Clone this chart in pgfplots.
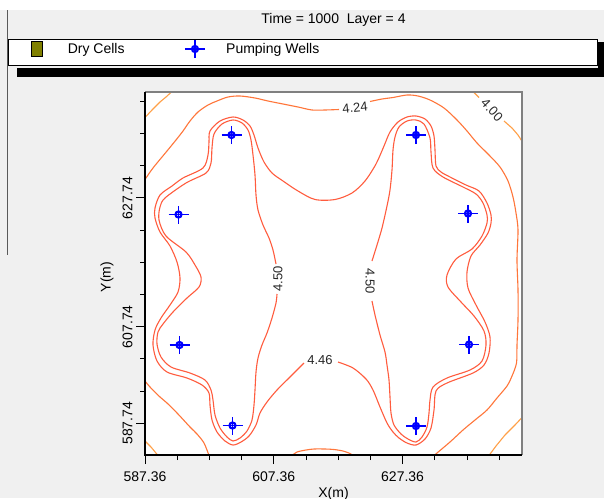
\documentclass[border=0pt]{standalone}
\usepackage{fontspec}
\setmainfont{Liberation Sans}
\usepackage{pgfplots}
\pgfplotsset{compat=1.18}
\definecolor{lobec}{RGB}{255,92,62}
\definecolor{ringc}{RGB}{255,118,58}
\definecolor{cornc}{RGB}{255,160,72}
\definecolor{bgc}{RGB}{240,240,240}
\definecolor{olivec}{RGB}{128,128,0}
\definecolor{labc}{RGB}{40,40,40}
\definecolor{wellc}{RGB}{0,0,255}
\pgfdeclareplotmark{well}{%
  \pgfsetstrokecolor{wellc}%
  \pgfsetlinewidth{1.6pt}%
  \pgfpathmoveto{\pgfqpoint{-10pt}{0pt}}\pgfpathlineto{\pgfqpoint{10pt}{0pt}}%
  \pgfpathmoveto{\pgfqpoint{0pt}{-9pt}}\pgfpathlineto{\pgfqpoint{0pt}{9pt}}%
  \pgfusepathqstroke
  \pgfsetlinewidth{2.2pt}%
  \pgfpathcircle{\pgfqpoint{0pt}{0pt}}{3pt}%
  \pgfusepathqstroke
}
\begin{document}
\begin{tikzpicture}
\useasboundingbox (0pt,0pt) rectangle (604pt,-498pt);
\fill[bgc] (0pt,0pt) rectangle (604pt,-498pt);
\fill[white] (0pt,0pt) rectangle (604pt,-10pt);
\draw[black!65, line width=1pt] (7pt,-10pt) -- (7pt,-255pt);
\fill[black] (17pt,-68pt) rectangle (604pt,-77pt);
\fill[black] (598pt,-42pt) rectangle (604pt,-77pt);
\filldraw[fill=white, draw=black, line width=1pt] (8pt,-39.5pt) rectangle (597pt,-65pt);
\begin{axis}[name=ax,
  at={(145pt,-455pt)}, anchor=south west,
  scale only axis, width=377pt, height=363pt,
  xmin=145, xmax=522, ymin=-455, ymax=-92,
  axis background/.style={fill=white},
  axis line style={draw=none},
  tick align=outside, tick pos=left,
  xtick={145,273.8,402.6}, xticklabels={587.36,607.36,627.36},
  minor xtick={177.2,209.4,241.6,306,338.2,370.4,434.8,467,499.2},
  ytick={-423.3,-326.7,-197.9}, yticklabels={587.74,607.74,627.74},
  minor ytick={-391.1,-358.9,-294.5,-262.3,-230.1,-165.7,-133.5,-101.3},
  major tick length=9pt, minor tick length=5pt,
  tick style={black, line width=1pt},
  ticklabel style={font=\fontsize{14}{16}\selectfont},
  xticklabel style={yshift=-4pt},
  yticklabel style={rotate=90, anchor=south},
  xlabel={X(m)}, ylabel={Y(m)},
  label style={font=\fontsize{14}{16}\selectfont},
  xlabel style={at={(axis description cs:0.5,0)}, anchor=north, inner sep=0pt, yshift=-32pt},
  ylabel style={at={(axis description cs:-0.1008,0.4904)}, anchor=center, rotate=0, inner sep=0pt},
  title={Time = 1000\ \ Layer = 4},
  title style={at={(axis description cs:0.5,1.2066)}, anchor=center, inner sep=0pt, yshift=-9pt, font=\fontsize{14}{16}\selectfont},
  legend columns=-1,
  legend style={at={(axis description cs:-0.30239,1.11846)}, anchor=west, draw=none, fill=none,
    inner xsep=0pt, inner ysep=0pt, font=\fontsize{14}{16}\selectfont,
    nodes={inner sep=0pt},
    /tikz/every even column/.append style={column sep=55.2pt}},
  legend cell align=left,
]
\addlegendimage{legend image code/.code={\path (0pt,0pt) (36pt,0pt); \draw[black, line width=0.8pt, fill=olivec] (0pt,-7.5pt) rectangle (11pt,7.5pt);}}
\addlegendentry{Dry Cells}
% 4.00 corners
\addplot[cornc, line width=1.1pt, forget plot] coordinates {(145,-117.5) (152,-110) (160,-102) (166,-97) (172,-91.5)};
\addplot[cornc, line width=1.1pt, forget plot] coordinates {(473,-91.5) (479,-97.5)};
\addplot[cornc, line width=1.1pt, forget plot] coordinates {(504,-121) (512,-128) (518,-135) (522.5,-142)};
\addplot[cornc, line width=1.1pt, forget plot] coordinates {(145,-441) (151,-447) (158,-455.5)};
\addplot[cornc, line width=1.1pt, forget plot] coordinates {(522.5,-417) (515,-425) (505,-435) (496,-446) (489,-455.5)};
% 4.24 ring
\addplot[ringc, line width=1.1pt, smooth, tension=0.5, forget plot] coordinates {(145,-179.5) (153,-168) (167,-151) (176,-140) (183,-131) (190,-121) (198,-112) (208,-105) (217,-101) (228,-97) (240,-96) (255,-98) (268,-101) (283,-104) (298,-107) (312,-110) (325,-110) (339,-109.5)};
\addplot[ringc, line width=1.1pt, smooth, tension=0.5, forget plot] coordinates {(370,-101.5) (382,-99) (393,-97.5) (407,-95) (418,-96) (430,-100) (444,-108) (457,-120) (467,-131) (477,-143) (489,-155) (500,-167) (508,-181) (513,-197) (516,-213) (518,-230) (517,-260) (518,-290) (518,-320) (517,-345) (516.5,-363) (512,-376) (507,-386) (497,-398) (487,-410) (475,-420) (463,-430) (450,-442) (434,-455.5)};
\addplot[ringc, line width=1.1pt, smooth, tension=0.5, forget plot] coordinates {(292,-455.5) (297,-452) (306,-450) (314,-449) (325,-449) (334,-449.5) (343,-451) (350,-453.5) (353,-455.5)};
\addplot[ringc, line width=1.1pt, smooth, tension=0.5, forget plot] coordinates {(145,-381) (150,-387) (160,-397) (167,-403) (178,-414) (190,-427) (197,-434) (204,-443) (209,-455.5)};
% 4.46 outline
\addplot[lobec, line width=1.1pt, smooth, tension=0.5, forget plot] coordinates {(304,-363) (290,-377) (277,-390) (267,-402) (260,-413) (256,-425) (249,-436) (241,-442) (233,-445) (225,-441) (217,-432) (212,-420) (210,-405) (209,-393) (202,-385) (187,-378) (167,-372) (157,-361) (153,-345) (155,-330) (161,-318) (170,-305) (178,-292) (180,-278) (177,-262) (170,-246) (160,-232) (155,-218) (155,-208) (160,-195) (172,-186) (183,-178) (203,-168) (208,-155) (209,-142) (210,-131) (220,-121) (233,-117) (243,-120) (250,-126) (254,-135) (258,-148) (264,-162) (272,-173) (283,-181) (298,-191) (315,-199.5) (335,-199.5) (352,-193) (365,-181) (376,-164) (384,-146) (390,-132) (398,-122) (407,-117) (416,-116) (425,-119) (431,-126) (434,-136) (435,-150) (436,-166) (441,-172) (450,-177) (466,-185) (479,-191) (487,-203) (491,-215) (491,-223) (488,-233) (480,-245) (471,-256) (467,-272) (468,-288) (476,-305) (485,-322) (490,-337) (489,-353) (484,-365) (473,-373) (447,-383) (436,-391) (434,-410) (431,-428) (425,-439) (416,-445) (407,-443) (399,-438) (393,-432) (387,-423) (380,-407) (373,-390) (366,-379) (353,-368) (338,-362)};
% 4.50 left
\addplot[lobec, line width=1.1pt, smooth, tension=0.5, forget plot] coordinates {(277,-294) (276,-303) (272,-318) (267,-333) (262,-345) (258,-358) (256,-372) (255,-390) (254,-405) (252,-420) (247,-431) (240,-438) (233,-441) (227,-437) (220,-428) (215,-415) (213,-400) (211,-390) (205,-380) (190,-373) (171,-367) (161,-357) (157,-344) (158,-332) (163,-324) (173,-312) (187,-298) (199,-287) (201,-277) (195,-265) (186,-252) (166,-236) (159,-220) (160,-207) (165,-198) (186,-183) (206,-173) (211,-163) (212,-148) (214,-134) (222,-124) (233,-120) (242,-123) (248,-130) (251,-140) (253,-155) (255,-175) (256,-195) (258,-210) (263,-225) (269,-238) (273,-250) (276,-264)};
% 4.50 right
\addplot[lobec, line width=1.1pt, smooth, tension=0.5, forget plot] coordinates {(372,-301) (375,-315) (380,-335) (385,-352) (387,-365) (389,-380) (390,-397) (391,-413) (394,-425) (401,-434) (408,-439) (416,-442) (422,-437) (427,-427) (429,-413) (430,-400) (433,-387) (447,-378) (470,-370) (482,-361) (486,-345) (484,-331) (474,-316) (461,-302) (448,-287) (447,-275) (456,-259) (472,-249) (482,-236) (487,-223) (487,-215) (483,-203) (476,-194) (463,-187) (443,-177) (433,-168) (431,-152) (430,-138) (424,-124) (416,-120) (407,-121) (399,-127) (395,-137) (393,-150) (392,-170) (390,-190) (387,-206) (382,-228) (377,-245) (372,-261)};
% contour labels
\node[font=\fontsize{13}{15}\selectfont, text=labc, rotate=6] at (axis cs:355,-107.5) {4.24};
\node[font=\fontsize{13}{15}\selectfont, text=labc, rotate=-47, inner sep=0pt] at (axis cs:492,-110) {4.00};
\node[font=\fontsize{13}{15}\selectfont, text=labc, rotate=90] at (axis cs:278,-279) {4.50};
\node[font=\fontsize{13}{15}\selectfont, text=labc, rotate=-90] at (axis cs:370,-281) {4.50};
\node[font=\fontsize{13}{15}\selectfont, text=labc] at (axis cs:320,-360) {4.46};
% wells
\addplot[only marks, mark=well, color=wellc, mark options={draw=wellc, fill=wellc}, legend image code/.code={\path (-15pt,0pt) (31pt,0pt); \pgfuseplotmark{well}}] coordinates {(231.5,-135) (178.5,-214.5) (179.5,-345) (232.5,-425.5) (416,-135) (468,-213.5) (469,-344.5) (416,-426)};
\addlegendentry{Pumping Wells}
\end{axis}
\draw[black!50, line width=1.6pt] (ax.north west) -- (ax.north east) -- (ax.south east);
\draw[black, line width=1.6pt] (ax.north west) -- (ax.south west) -- (ax.south east);
\end{tikzpicture}
\end{document}
